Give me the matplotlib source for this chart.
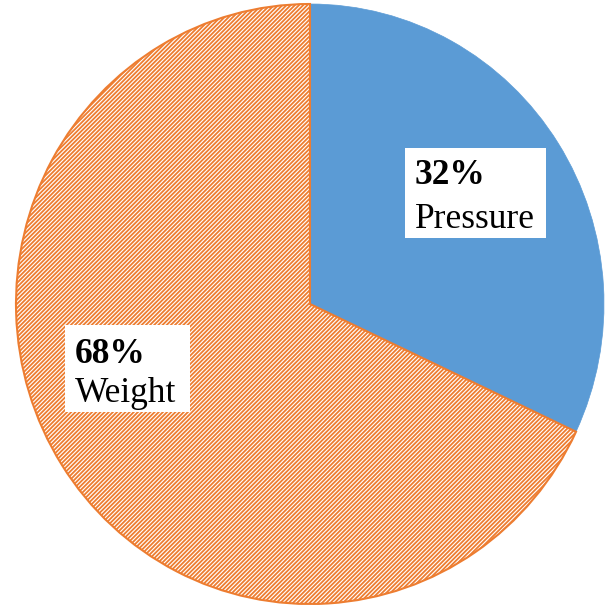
import matplotlib.pyplot as plt
from matplotlib.patches import Rectangle

# slice data
labels = ["Pressure", "Weight"]
shares = [32, 68]
pct_text = ["32%", "68%"]

blue = "#5B9BD5"
orange = "#ED7D31"

plt.rcParams['hatch.linewidth'] = 1.3

fig = plt.figure(figsize=(6.05, 6.09), dpi=100)
ax = fig.add_axes([0, 0, 1, 1])

wedges, _ = ax.pie(shares, startangle=90, counterclock=False, radius=1,
                   colors=[blue, "white"])
wedges[0].set_edgecolor(blue)
wedges[0].set_linewidth(0.5)
wedges[1].set_edgecolor(orange)
wedges[1].set_hatch("////////")
wedges[1].set_linewidth(1.5)

ax.set_aspect('auto')
ax.set_xlim(-310 / 294, 295 / 294)
ax.set_ylim(-305 / 300, 304 / 300)
ax.axis('off')

# label boxes: (box x0, y0, w, h, text x, pct baseline, name baseline)
boxes = [(0.323, 0.22, 0.48, 0.30, 0.357, 0.40, 0.255),
         (-0.833, -0.36, 0.425, 0.29, -0.80, -0.195, -0.325)]
for i, (x0, y0, w, h, tx, yb1, yb2) in enumerate(boxes):
    ax.add_patch(Rectangle((x0, y0), w, h, facecolor="white",
                           edgecolor="none", zorder=3))
    ax.text(tx, yb1, pct_text[i], fontsize=25.5, fontweight="bold",
            family="Liberation Serif", va="baseline", ha="left", zorder=4)
    ax.text(tx, yb2, labels[i], fontsize=25.5, family="Liberation Serif",
            va="baseline", ha="left", zorder=4)

fig.savefig("out.png", dpi=100)
